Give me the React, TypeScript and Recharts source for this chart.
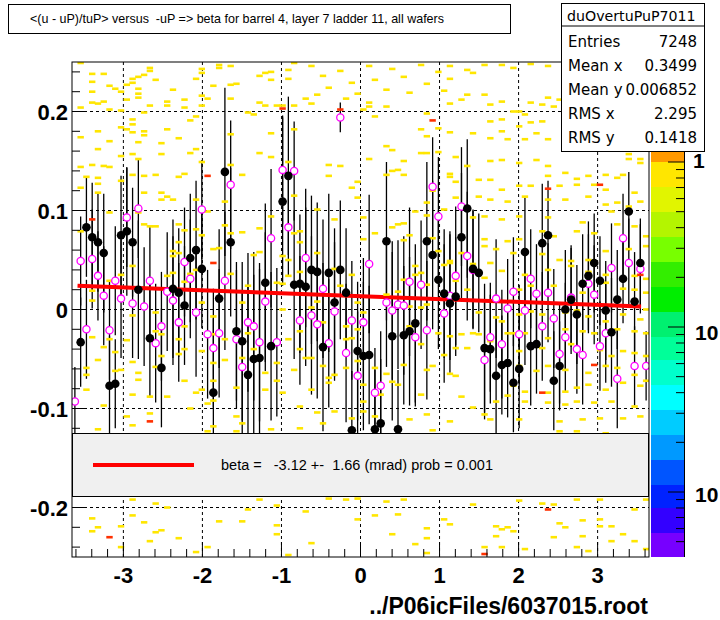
import React from "react";
import {
  ComposedChart,
  Scatter,
  Line,
  XAxis,
  YAxis,
  ReferenceLine,
  ErrorBar,
} from "recharts";

// ---- axis ranges / binning (100 x-bins over the plotted range) ----
const X_MIN = -3.65;
const X_MAX = 3.65;
const Y_MIN = -0.25;
const Y_MAX = 0.25;
const N_BINS = 100;
const BIN_W = (X_MAX - X_MIN) / N_BINS;
const binCenter = (i: number) => X_MIN + BIN_W * (i + 0.5);

const X_TICKS = [
  -3.6, -3.4, -3.2, -3, -2.8, -2.6, -2.4, -2.2, -2, -1.8, -1.6, -1.4, -1.2, -1,
  -0.8, -0.6, -0.4, -0.2, 0, 0.2, 0.4, 0.6, 0.8, 1, 1.2, 1.4, 1.6, 1.8, 2, 2.2,
  2.4, 2.6, 2.8, 3, 3.2, 3.4, 3.6,
];
const X_LABELS = [-3, -2, -1, 0, 1, 2, 3];
const Y_TICKS = [
  -0.24, -0.22, -0.2, -0.18, -0.16, -0.14, -0.12, -0.1, -0.08, -0.06, -0.04,
  -0.02, 0, 0.02, 0.04, 0.06, 0.08, 0.1, 0.12, 0.14, 0.16, 0.18, 0.2, 0.22, 0.24,
];
const Y_LABELS = [-0.2, -0.1, 0, 0.1, 0.2];
const Y_LABEL_TEXT = ["-0.2", "-0.1", "0", "0.1", "0.2"];

// ---- profile 1 (black filled) : mean per bin, null = not visible ----
const BLACK_Y = [
  null, -0.033, 0.083, 0.073, 0.068, 0.057, -0.077, -0.075, 0.075, 0.079,
  0.068, 0.02, null, -0.029, null, -0.059, null, 0.021, 0.017, 0.004,
  0.052, 0.06, 0.041, null, -0.084, 0.011, 0.139, 0.068, -0.022, -0.032,
  -0.066, -0.05, -0.049, 0.027, -0.037, null, 0.109, 0.135, 0.025, 0.026,
  0.023, 0.04, 0.038, -0.038, 0.037, 0.007, 0.04, 0.017, -0.122, -0.042,
  -0.047, -0.046, -0.121, -0.115, 0.069, -0.027, -0.121, -0.026, -0.022, -0.014,
  null, 0.069, 0.055, 0.03, 0.016, 0.006, 0.013, 0.073, 0.102, 0.041,
  0.037, -0.039, -0.04, -0.067, -0.056, -0.054, -0.074, -0.06, 0.058, -0.037,
  -0.035, 0.067, 0.075, -0.072, -0.057, 0.0, 0.01, -0.005, 0.026, 0.034,
  0.047, 0.029, -0.001, -0.023, 0.01, 0.031, 0.099, 0.008, 0.047, null,
];
const BLACK_ERR = [
  0.05, 0.045, 0.05, 0.055, 0.05, 0.06, 0.05, 0.045, 0.06, 0.065,
  0.055, 0.07, 0, 0.06, 0, 0.06, 0, 0.07, 0.065, 0.06,
  0.065, 0.07, 0.06, 0, 0.075, 0.07, 0.085, 0.075, 0.07, 0.08,
  0.09, 0.085, 0.09, 0.08, 0.075, 0, 0.085, 0.08, 0.075, 0.07,
  0.08, 0.075, 0.07, 0.085, 0.08, 0.075, 0.07, 0.065, 0.06, 0.07,
  0.075, 0.07, 0.06, 0.065, 0.08, 0.085, 0.06, 0.07, 0.075, 0.08,
  0, 0.08, 0.075, 0.07, 0.065, 0.07, 0.06, 0.065, 0.07, 0.06,
  0.06, 0.065, 0.055, 0.06, 0.05, 0.055, 0.05, 0.06, 0.055, 0.06,
  0.05, 0.06, 0.055, 0.05, 0.045, 0.06, 0.055, 0.05, 0.05, 0.055,
  0.05, 0.045, 0.05, 0.055, 0.05, 0.045, 0.04, 0.05, 0.045, 0,
];

// ---- profile 2 (magenta open) ----
const MAG_Y = [
  -0.093, 0.049, -0.02, 0.051, 0.034, 0.014, -0.021, 0.029, 0.011, 0.093,
  0.006, 0.102, 0.003, 0.029, -0.034, -0.017, 0.018, 0.009, -0.013, 0.048,
  0.031, -0.003, 0.101, -0.025, -0.039, -0.024, 0.029, 0.126, -0.03, -0.058,
  -0.013, -0.017, -0.033, 0.008, 0.072, -0.033, 0.141, 0.083, 0.14, -0.011,
  0.052, -0.006, -0.015, 0.021, -0.034, -0.002, 0.194, -0.044, -0.011, -0.067,
  -0.013, 0.046, -0.084, -0.077, 0.007, -0.001, 0.005, 0.004, 0.028, -0.028,
  0.025, -0.021, 0.124, 0.094, -0.004, 0.014, 0.034, 0.104, 0.054, 0.04,
  null, -0.051, -0.028, 0.011, -0.035, 0.001, 0.018, -0.025, -0.001, 0.031,
  0.016, -0.017, 0.017, -0.009, -0.045, -0.028, 0.012, -0.04, -0.046, 0.026,
  0.015, -0.037, -0.024, 0.042, -0.07, 0.072, 0.047, -0.057, 0.041, -0.057,
];
const MAG_ERR = [
  0.035, 0.045, 0.05, 0.05, 0.045, 0.05, 0.05, 0.055, 0.06, 0.05,
  0.055, 0.05, 0.06, 0.055, 0.06, 0.055, 0.06, 0.065, 0.06, 0.055,
  0.06, 0.065, 0.05, 0.065, 0.06, 0.065, 0.07, 0.065, 0.07, 0.075,
  0.07, 0.075, 0.08, 0.07, 0.07, 0.075, 0.055, 0.05, 0.05, 0.065,
  0.07, 0.08, 0.075, 0.07, 0.065, 0.07, 0.015, 0.07, 0.06, 0.065,
  0.065, 0.07, 0.045, 0.055, 0.065, 0.07, 0.065, 0.07, 0.075, 0.07,
  0.065, 0.07, 0.05, 0.06, 0.07, 0.065, 0.07, 0.06, 0.065, 0.06,
  0, 0.06, 0.055, 0.06, 0.055, 0.05, 0.055, 0.05, 0.055, 0.05,
  0.05, 0.055, 0.05, 0.05, 0.05, 0.055, 0.05, 0.045, 0.05, 0.05,
  0.05, 0.045, 0.05, 0.045, 0.05, 0.045, 0.045, 0.04, 0.045, 0.035,
];

// ---- fit line ----
const FIT_X = [-3.58, 3.55];
const FIT_Y = [0.024, 0.003];

// ---- 2D histogram cells [x-bin, y] : low-count (yellow) ----
const YELLOW_CELLS: [number, number][] = [
  // upper left
  [1, 0.249], [3, 0.238], [5, 0.238], [3, 0.23], [6, 0.226], [7, 0.223], [8, 0.22], [3, 0.22],
  [11, 0.223], [11, 0.218], [13, 0.244], [13, 0.241], [12, 0.237], [11, 0.235], [10, 0.233],
  [10, 0.229], [9, 0.227], [14, 0.232], [11, 0.214], [9, 0.212], [13, 0.206], [17, 0.222],
  [16, 0.21], [16, 0.206], [19, 0.212], [19, 0.204], [22, 0.243], [22, 0.239], [21, 0.233],
  [22, 0.216], [22, 0.206], [25, 0.247], [25, 0.244], [27, 0.246], [27, 0.227], [28, 0.228],
  [24, 0.226], [27, 0.213], [23, 0.213], [33, 0.239], [34, 0.24], [32, 0.236], [34, 0.232],
  [37, 0.242], [37, 0.233], [32, 0.209], [33, 0.206], [35, 0.206], [36, 0.206], [38, 0.206],
  [40, 0.213], [30, 0.199], [31, 0.197], [38, 0.249], [3, 0.209], [5, 0.21], [4, 0.208],
  [1, 0.204], [8, 0.201], [12, 0.199], [6, 0.202], [10, 0.192], [10, 0.187], [10, 0.179],
  [12, 0.18], [12, 0.176], [11, 0.169], [15, 0.168], [16, 0.182], [18, 0.173], [9, 0.182],
  [8, 0.184], [4, 0.18], [1, 0.174], [6, 0.17], [8, 0.155], [4, 0.162], [10, 0.157],
  [11, 0.152], [15, 0.157], [20, 0.158], [21, 0.162], [20, 0.191], [21, 0.195], [22, 0.149],
  [27, 0.177], [27, 0.146], [29, 0.136], [34, 0.178], [34, 0.154], [32, 0.158], [37, 0.149],
  [38, 0.182], [1, 0.144], [3, 0.146], [5, 0.145], [6, 0.144], [2, 0.134], [4, 0.133],
  [4, 0.127], [4, 0.118], [1, 0.123], [8, 0.13], [10, 0.136], [12, 0.135], [14, 0.136],
  [18, 0.134], [19, 0.137], [12, 0.118], [15, 0.118], [16, 0.114], [15, 0.111], [17, 0.111],
  [21, 0.111], [23, 0.099], [26, 0.109], [26, 0.085], [29, 0.078], [32, 0.082], [34, 0.094],
  [38, 0.115], [39, 0.079], [39, 0.068], [6, 0.098], [11, 0.098], [12, 0.086], [13, 0.084],
  [14, 0.084], [18, 0.086], [19, 0.08], [18, 0.068], [17, 0.059], [17, 0.054], [18, 0.057],
  [21, 0.081], [22, 0.075], [24, 0.061], [25, 0.062], [27, 0.077], [31, 0.055], [32, 0.058],
  [36, 0.054], [38, 0.077], [1, 0.079],
  // top strip centre
  [41, 0.246], [43, 0.236], [44, 0.224], [46, 0.241], [48, 0.229], [49, 0.218], [51, 0.246],
  [52, 0.232], [54, 0.222], [55, 0.243], [57, 0.235], [58, 0.219], [60, 0.247], [61, 0.228],
  [63, 0.24], [64, 0.221], [42, 0.217], [47, 0.213],
  // upper right
  [65, 0.246], [65, 0.233], [68, 0.242], [69, 0.239], [71, 0.247], [74, 0.247], [76, 0.244],
  [79, 0.248], [82, 0.246], [67, 0.212], [65, 0.208], [68, 0.217], [71, 0.217], [74, 0.21],
  [72, 0.207], [76, 0.2], [77, 0.2], [78, 0.197], [79, 0.209], [82, 0.214], [81, 0.207],
  [83, 0.205], [84, 0.212], [72, 0.19], [74, 0.192], [77, 0.185], [79, 0.189], [81, 0.19],
  [65, 0.179], [69, 0.178], [72, 0.173], [74, 0.18], [75, 0.172], [78, 0.172], [80, 0.178],
  [82, 0.172], [66, 0.154], [65, 0.137], [68, 0.145], [72, 0.15], [74, 0.151], [77, 0.148],
  [80, 0.151], [82, 0.145], [85, 0.138], [87, 0.132], [89, 0.135], [92, 0.136], [94, 0.133],
  [96, 0.157], [96, 0.152], [98, 0.152], [98, 0.148], [66, 0.129], [70, 0.131], [72, 0.131],
  [74, 0.121], [77, 0.125], [79, 0.125], [82, 0.135], [84, 0.125], [87, 0.126], [90, 0.126],
  [92, 0.121], [95, 0.136], [97, 0.118], [66, 0.113], [70, 0.114], [72, 0.111], [75, 0.109],
  [78, 0.114], [82, 0.111], [85, 0.111], [89, 0.114], [92, 0.106], [94, 0.108], [96, 0.104],
  [98, 0.109], [69, 0.093], [71, 0.094], [74, 0.091], [77, 0.094], [82, 0.093], [88, 0.088],
  [93, 0.099], [96, 0.098], [71, 0.071], [75, 0.069], [77, 0.071], [81, 0.079], [83, 0.074],
  [87, 0.079], [90, 0.077], [94, 0.086], [97, 0.084], [99, 0.074], [67, 0.057], [71, 0.064],
  [73, 0.061], [76, 0.057], [78, 0.059], [81, 0.056], [84, 0.05], [86, 0.049], [89, 0.05],
  [92, 0.059], [96, 0.061], [99, 0.064], [65, 0.049], [69, 0.046], [72, 0.047], [74, 0.039],
  [78, 0.035], [82, 0.04], [86, 0.044], [89, 0.038], [92, 0.035], [97, 0.034], [99, 0.031],
  [66, 0.029], [68, 0.02], [71, 0.032], [77, 0.02], [79, 0.024], [83, 0.024], [88, 0.017],
  [92, 0.027], [95, 0.021], [97, 0.02], [99, 0.017],
  // lower left
  [1, 0.05], [3, 0.019], [3, 0.009], [5, -0.038], [4, -0.051], [3, -0.028], [2, -0.059],
  [2, -0.066], [2, -0.081], [5, -0.097], [4, -0.121], [6, -0.03], [7, -0.043], [7, -0.062],
  [8, -0.061], [8, 0.035], [6, 0.029], [10, 0.044], [10, -0.006], [9, -0.031], [10, -0.053],
  [11, -0.071], [10, -0.086], [9, -0.108], [10, -0.117], [11, -0.064], [13, -0.088],
  [13, -0.105], [14, -0.003], [14, -0.022], [15, -0.025], [15, -0.047], [14, -0.058],
  [16, -0.088], [16, 0.034], [17, 0.037], [18, -0.03], [18, -0.045], [19, -0.017], [19, -0.04],
  [20, 0.036], [19, 0.028], [19, -0.072], [21, -0.084], [20, -0.1], [21, 0.04], [22, 0.007],
  [22, -0.042], [22, -0.081], [23, -0.123], [24, -0.007], [24, -0.025], [24, -0.054],
  [24, -0.072], [24, -0.092], [24, -0.118], [23, -0.095], [27, 0.036], [26, -0.03], [26, -0.051],
  [28, -0.079], [28, -0.108], [28, -0.123], [29, -0.115], [29, 0.007], [30, 0.024], [30, -0.024],
  [29, -0.049], [31, -0.019], [31, -0.04], [33, -0.064], [33, -0.081], [34, -0.121],
  [35, -0.054], [35, -0.072], [35, 0.027], [36, 0.026], [36, -0.084], [36, 0.0], [37, 0.05],
  [37, 0.034], [37, -0.03], [38, -0.061], [39, 0.038], [39, -0.04], [39, -0.022], [39, -0.098],
  [40, -0.049], [41, -0.081], [39, -0.12],
  // centre
  [41, 0.208], [50, 0.202], [44, 0.146], [46, 0.145], [42, 0.101], [42, 0.057], [44, 0.135],
  [45, 0.091], [48, 0.123], [49, 0.129], [49, 0.113], [50, 0.093], [50, 0.071], [42, 0.008],
  [45, 0.041], [46, 0.024], [48, 0.035], [49, 0.007], [50, -0.003], [41, 0.002], [43, -0.013],
  [47, -0.017], [47, -0.03], [48, -0.029], [49, -0.02], [41, -0.049], [43, -0.057], [44, -0.069],
  [44, -0.074], [45, -0.066], [47, -0.059], [49, -0.052], [49, -0.066], [42, -0.104],
  [43, -0.115], [45, -0.103], [48, -0.11], [50, -0.103], [50, -0.076], [50, -0.093],
  [51, 0.209], [51, 0.205], [54, 0.205], [52, 0.195], [61, 0.198], [63, 0.183], [61, 0.175],
  [60, 0.182], [51, 0.152], [55, 0.161], [54, 0.165], [55, 0.14], [56, 0.141], [57, 0.136],
  [54, 0.136], [57, 0.15], [60, 0.158], [61, 0.158], [63, 0.159], [65, 0.134], [62, 0.12],
  [59, 0.099], [61, 0.108], [61, 0.095], [64, 0.101], [65, 0.047], [56, 0.086], [57, 0.087],
  [55, 0.083], [52, 0.077], [57, 0.07], [58, 0.075], [62, 0.072], [63, 0.059], [64, 0.045],
  [57, 0.03], [59, 0.044], [59, 0.035], [60, 0.037], [61, 0.025], [56, 0.018], [54, 0.015],
  [58, 0.003], [58, -0.017], [60, 0.002], [61, 0.005], [63, -0.024], [65, -0.027], [66, -0.039],
  [67, -0.025], [68, -0.039], [69, -0.024], [70, -0.003], [70, -0.025], [72, -0.032],
  [73, -0.008], [74, -0.012], [75, -0.024], [52, -0.059], [53, -0.086], [55, -0.073],
  [56, -0.076], [57, -0.056], [60, -0.035], [61, -0.061], [62, -0.057], [64, -0.046],
  [65, -0.065], [66, -0.067], [67, -0.088], [69, -0.099], [71, -0.106], [72, -0.111],
  [73, -0.093], [75, -0.087], [62, -0.122], [60, -0.086], [61, -0.106], [58, -0.111],
  [65, -0.113], [52, -0.108], [54, -0.065],
  // lower right
  [77, -0.005], [79, -0.002], [81, -0.005], [85, -0.003], [87, -0.001], [89, -0.007],
  [92, -0.012], [95, -0.005], [98, -0.01], [99, 0.0], [76, -0.024], [78, -0.024], [81, -0.015],
  [82, -0.029], [85, -0.02], [88, -0.022], [90, -0.024], [94, -0.02], [97, -0.022], [99, -0.024],
  [77, -0.042], [81, -0.039], [84, -0.046], [86, -0.035], [88, -0.044], [91, -0.041],
  [93, -0.047], [95, -0.042], [97, -0.044], [99, -0.047], [77, -0.057], [80, -0.062],
  [82, -0.057], [85, -0.061], [89, -0.064], [92, -0.057], [94, -0.059], [97, -0.066],
  [76, -0.077], [78, -0.083], [82, -0.084], [85, -0.083], [87, -0.079], [89, -0.076],
  [92, -0.081], [95, -0.074], [98, -0.077], [99, -0.072], [78, -0.093], [82, -0.094],
  [85, -0.096], [87, -0.093], [90, -0.094], [93, -0.093], [97, -0.098], [77, -0.111],
  [84, -0.113], [88, -0.111], [91, -0.11], [95, -0.11], [98, -0.108], [79, -0.126],
  [84, -0.123], [87, -0.123], [92, -0.125],
  // below the fit box
  [10, -0.192], [14, -0.196], [16, -0.2], [3, -0.211], [4, -0.22], [3, -0.224], [8, -0.219],
  [10, -0.208], [12, -0.215], [15, -0.223], [14, -0.225], [18, -0.231], [13, -0.234],
  [8, -0.24], [21, -0.245], [23, -0.24], [25, -0.214], [29, -0.214], [30, -0.202], [32, -0.192],
  [35, -0.198], [37, -0.248], [35, -0.218], [35, -0.227], [40, -0.204], [41, -0.236],
  [44, -0.191], [47, -0.192], [49, -0.191], [49, -0.212], [52, -0.208], [54, -0.194],
  [56, -0.207], [57, -0.192], [55, -0.227], [59, -0.237], [61, -0.246], [61, -0.221],
  [61, -0.231], [64, -0.212], [65, -0.217], [69, -0.197], [71, -0.24], [73, -0.219],
  [74, -0.222], [75, -0.22], [73, -0.229], [74, -0.24], [76, -0.224], [77, -0.193],
  [78, -0.242], [81, -0.196], [83, -0.197], [83, -0.23], [84, -0.216], [85, -0.22],
  [87, -0.192], [88, -0.213], [87, -0.24], [88, -0.229], [89, -0.244], [91, -0.212],
  [91, -0.219], [91, -0.192], [93, -0.234], [95, -0.227], [97, -0.234], [99, -0.192],
  [99, -0.242], [93, -0.219], [97, -0.202],
];

// ---- higher-count cells (red) ----
const RED_CELLS: [number, number][] = [
  [3, 0.091], [23, 0.135], [36, 0.203], [46, 0.202], [62, 0.191], [82, 0.122], [91, 0.126],
  [13, -0.113], [24, 0.047], [98, 0.035], [90, -0.056], [81, -0.084], [6, -0.23], [82, -0.202],
  [71, -0.247],
];

// ---- boxes / palette ----
const TITLE = "<(u - uP)/tuP> versus  -uP => beta for barrel 4, layer 7 ladder 11, all wafers";
const STATS_NAME = "duOvertuPuP7011";
const STATS: [string, string][] = [
  ["Entries", "7248"],
  ["Mean x", "0.3499"],
  ["Mean y", "0.006852"],
  ["RMS x", "2.295"],
  ["RMS y", "0.1418"],
];
const FIT_LABEL = "beta =   -3.12 +-  1.66 (mrad) prob = 0.001";
const FILE_LABEL = "../P06icFiles/6037015.root";

const PALETTE_COLORS = [
  "#ff9900", "#ffe600", "#e1f500", "#b4f500", "#78ff00", "#33ee00", "#00ee00", "#00f070",
  "#00ff99", "#00ffcc", "#00ffff", "#00ccff", "#0099ff", "#0055ff", "#0022ff", "#3300ff",
  "#7700ff",
];
const PALETTE_EDGES = [152, 162, 187, 212, 237, 262, 287, 312, 337, 360, 385, 410, 435, 460, 485, 508, 533, 557];
const PALETTE_MAJOR = [1, 0.1, 0.01];
const PALETTE_MINOR = [
  0.9, 0.8, 0.7, 0.6, 0.5, 0.4, 0.3, 0.2, 0.09, 0.08, 0.07, 0.06, 0.05, 0.04, 0.03, 0.02,
  0.009, 0.008, 0.007, 0.006, 0.005,
];
const PALETTE_LABELS = [
  { text: "1", x: 693, y: 168 },
  { text: "10", x: 695, y: 340 },
  { text: "10", x: 695, y: 502 },
];
const palY = (v: number) => 162 - 165 * Math.log10(v);

const FONT = "'Liberation Sans', Arial, Helvetica, sans-serif";
const PLOT = { left: 72, top: 62, right: 649, bottom: 557 };

const yellowData = YELLOW_CELLS.map(([b, y]) => ({ x: binCenter(b), y }));
const redData = RED_CELLS.map(([b, y]) => ({ x: binCenter(b), y }));
const blackData = BLACK_Y.map((y, i) =>
  y === null ? null : { x: binCenter(i), y, err: BLACK_ERR[i] }
).filter(Boolean) as { x: number; y: number; err: number }[];
const magData = MAG_Y.map((y, i) =>
  y === null ? null : { x: binCenter(i), y, err: MAG_ERR[i] }
).filter(Boolean) as { x: number; y: number; err: number }[];
const fitData = FIT_X.map((x, i) => ({ x, y: FIT_Y[i] }));

const cellShape = (color: string) => (p: any) => {
  if (p.cx == null || p.cy == null) return <g />;
  return <rect x={p.cx - 3.2} y={p.cy - 1.3} width={6.4} height={2.6} fill={color} />;
};
const BlackDot = (p: any) =>
  p.cx == null ? <g /> : <circle cx={p.cx} cy={p.cy} r={4.3} fill="#000" />;
const MagentaRing = (p: any) =>
  p.cx == null ? (
    <g />
  ) : (
    <circle cx={p.cx} cy={p.cy} r={3.6} fill="#fff" stroke="#ff00ff" strokeWidth={1.3} />
  );

function XTick(props: any) {
  const { x, payload } = props;
  const idx = X_LABELS.findIndex((l) => Math.abs(l - payload.value) < 1e-6);
  const major = idx >= 0;
  return (
    <g>
      <line x1={x} x2={x} y1={PLOT.bottom} y2={PLOT.bottom - (major ? 15 : 8)} stroke="#000" />
      {major && (
        <text x={x} y={583} textAnchor="middle" fontFamily={FONT} fontSize={22} fontWeight="bold" fill="#000">
          {X_LABELS[idx]}
        </text>
      )}
    </g>
  );
}

function YTick(props: any) {
  const { y, payload } = props;
  const idx = Y_LABELS.findIndex((l) => Math.abs(l - payload.value) < 1e-6);
  const major = idx >= 0;
  return (
    <g>
      <line x1={PLOT.left} x2={PLOT.left + (major ? 15 : 8)} y1={y} y2={y} stroke="#000" />
      {major && (
        <text x={68} y={y + 8} textAnchor="end" fontFamily={FONT} fontSize={22} fontWeight="bold" fill="#000">
          {Y_LABEL_TEXT[idx]}
        </text>
      )}
    </g>
  );
}

export default function App() {
  return (
    <div style={{ position: "absolute", left: 0, top: 0, width: 720, height: 620, background: "#fff", overflow: "hidden" }}>
      <ComposedChart
        width={720}
        height={620}
        margin={{ top: 62, right: 71, bottom: 23, left: 0 }}
        style={{ position: "absolute", left: 0, top: 0 }}
      >
        <XAxis
          type="number"
          dataKey="x"
          domain={[X_MIN, X_MAX]}
          allowDataOverflow
          ticks={X_TICKS}
          interval={0}
          tick={(p: any) => <XTick {...p} />}
          axisLine={false}
          tickLine={false}
          height={40}
        />
        <YAxis
          type="number"
          dataKey="y"
          domain={[Y_MIN, Y_MAX]}
          allowDataOverflow
          ticks={Y_TICKS}
          interval={0}
          tick={(p: any) => <YTick {...p} />}
          axisLine={false}
          tickLine={false}
          width={72}
        />
        {X_LABELS.map((v) => (
          <ReferenceLine key={"gx" + v} x={v} stroke="#000" strokeDasharray="3 3" strokeWidth={1} />
        ))}
        {Y_LABELS.map((v) => (
          <ReferenceLine key={"gy" + v} y={v} stroke="#000" strokeDasharray="3 3" strokeWidth={1} />
        ))}
        <Scatter data={yellowData} dataKey="y" shape={cellShape("#ffe600")} isAnimationActive={false} />
        <Scatter data={redData} dataKey="y" shape={cellShape("#ff3000")} isAnimationActive={false} />
        <Scatter data={magData} dataKey="y" shape={MagentaRing} isAnimationActive={false}>
          <ErrorBar dataKey="err" direction="y" width={0} stroke="#000" strokeWidth={1.3} />
        </Scatter>
        <Scatter data={blackData} dataKey="y" shape={BlackDot} isAnimationActive={false}>
          <ErrorBar dataKey="err" direction="y" width={0} stroke="#000" strokeWidth={1.3} />
        </Scatter>
        <Line
          data={fitData}
          dataKey="y"
          type="linear"
          stroke="#ff0000"
          strokeWidth={4}
          dot={false}
          isAnimationActive={false}
        />
      </ComposedChart>

      <svg
        width={720}
        height={620}
        style={{ position: "absolute", left: 0, top: 0, pointerEvents: "none" }}
      >
        {/* frame */}
        <rect x={PLOT.left} y={PLOT.top} width={PLOT.right - PLOT.left} height={PLOT.bottom - PLOT.top} fill="none" stroke="#000" />

        {/* fit legend box */}
        <rect x={72.5} y={433.5} width={576} height={63} fill="#f0f0f0" stroke="#000" />
        <line x1={93} x2={194} y1={465} y2={465} stroke="#ff0000" strokeWidth={4} />
        <text x={221} y={470} fontFamily={FONT} fontSize={14} fill="#000" textLength={272} lengthAdjust="spacingAndGlyphs" style={{ whiteSpace: "pre" }}>
          {FIT_LABEL}
        </text>

        {/* title box */}
        <rect x={8.5} y={4.5} width={502} height={29} fill="#fff" stroke="#000" />
        <text x={30} y={23} fontFamily={FONT} fontSize={13} fill="#000" textLength={414} lengthAdjust="spacingAndGlyphs" style={{ whiteSpace: "pre" }}>
          {TITLE}
        </text>

        {/* stats box */}
        <rect x={561.5} y={3.5} width={143} height={148} fill="#fff" stroke="#000" />
        <line x1={561.5} x2={704.5} y1={26} y2={26} stroke="#000" />
        <text x={567} y={21} fontFamily="'DejaVu Sans', sans-serif" fontSize={14.2} fill="#000">
          {STATS_NAME}
        </text>
        {STATS.map(([k, v], i) => (
          <g key={k}>
            <text x={568} y={47 + i * 24} fontFamily="'DejaVu Sans', sans-serif" fontSize={15} fill="#000">
              {k}
            </text>
            <text x={697} y={47 + i * 24} textAnchor="end" fontFamily="'DejaVu Sans', sans-serif" fontSize={15} fill="#000">
              {v}
            </text>
          </g>
        ))}

        {/* colour palette */}
        {PALETTE_COLORS.map((c, i) => (
          <rect key={c + i} x={651} y={PALETTE_EDGES[i]} width={33} height={PALETTE_EDGES[i + 1] - PALETTE_EDGES[i]} fill={c} />
        ))}
        <line x1={684.5} x2={684.5} y1={152} y2={557} stroke="#000" />
        {PALETTE_MAJOR.map((v) => (
          <line key={"pm" + v} x1={668} x2={684} y1={palY(v)} y2={palY(v)} stroke="#000" />
        ))}
        {PALETTE_MINOR.map((v) => (
          <line key={"pn" + v} x1={676} x2={684} y1={palY(v)} y2={palY(v)} stroke="#000" />
        ))}
        {PALETTE_LABELS.map((l, i) => (
          <text key={"pl" + i} x={l.x} y={l.y} fontFamily={FONT} fontSize={21} fontWeight="bold" fill="#000">
            {l.text}
          </text>
        ))}

        {/* file name */}
        <text x={648} y={614} textAnchor="end" fontFamily={FONT} fontSize={23} fontWeight="bold" fill="#000">
          {FILE_LABEL}
        </text>
      </svg>
    </div>
  );
}
